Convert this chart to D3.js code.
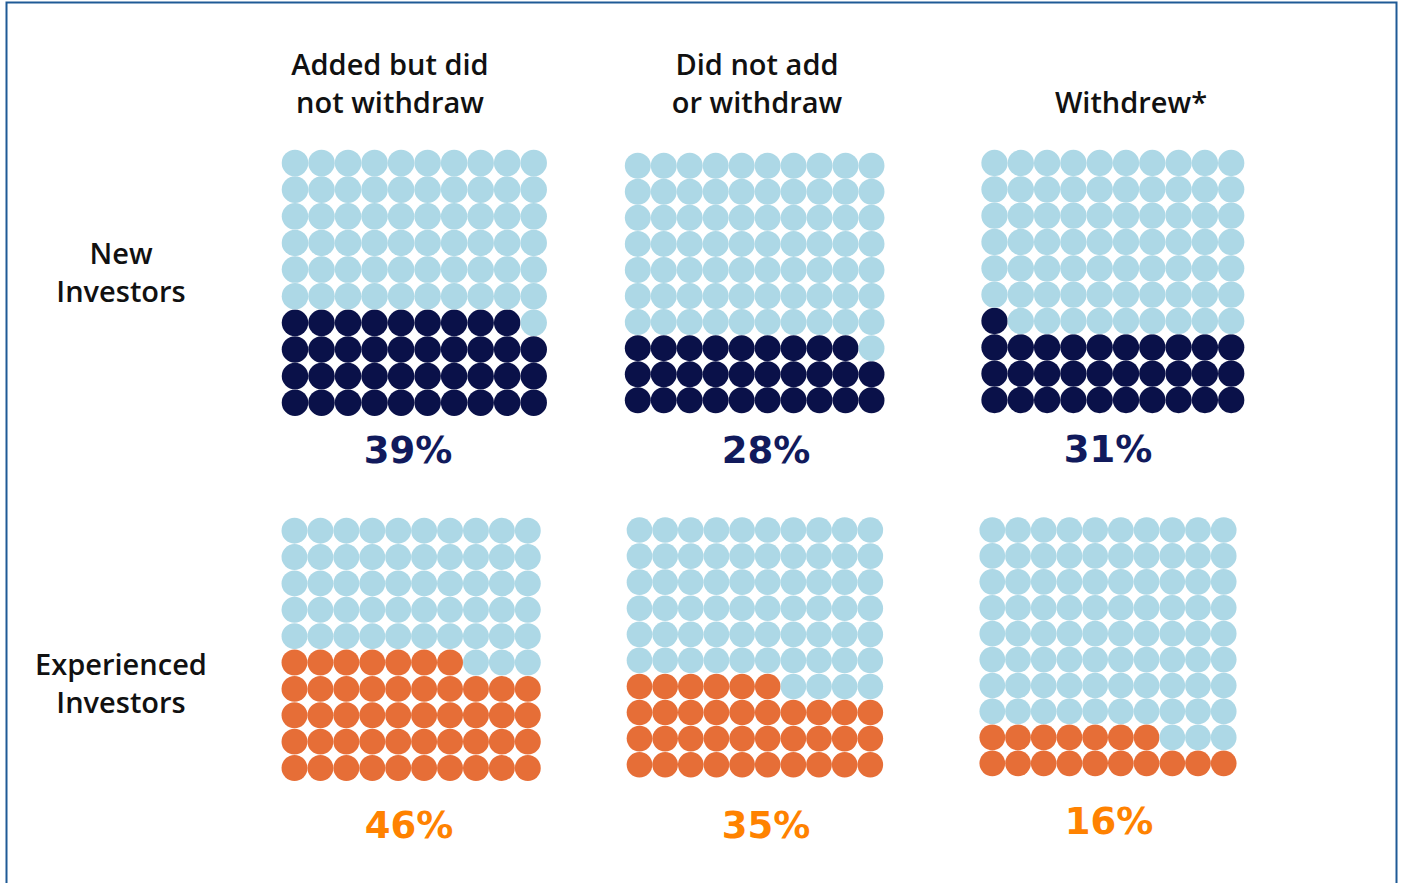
<!DOCTYPE html>
<html>
<head>
<meta charset="utf-8">
<script src="https://d3js.org/d3.v7.min.js"></script>
<style>
  html, body { margin: 0; padding: 0; background: #fff; }
  svg { display: block; }
</style>
</head>
<body>
<svg id="chart" width="1401" height="883"></svg>
<script>
  // data
  var columns = [["Added but did", "not withdraw"], ["Did not add", "or withdraw"], ["Withdrew*"]];
  var groups = [["New", "Investors"], ["Experienced", "Investors"]];
  var pctLabels = [["39%", "28%", "31%"], ["46%", "35%", "16%"]];
  // filled dots counted in each 10x10 waffle
  var filledDots = [[39, 29, 31], [47, 36, 17]];

  var groupColors = ["#0a1149", "#e66e37"];
  var pctColors = ["#111a5c", "#ff8200"];
  var emptyColor = "#add8e6";

  // centre of first / last dot in each panel [x0, x1, y0, y1]
  var panelBox = [
    [[295, 533.7, 163, 402.7], [637.8, 871.5, 165.7, 400.3], [994.5, 1231.2, 163, 400]],
    [[294.5, 527.8, 530.7, 768], [639.5, 870.3, 530, 764.7], [992.3, 1223.7, 530, 763.3]]
  ];
  var headX = [390, 757, 1131];
  var pctPos = [[[408, 463], [766, 463], [1108, 462]], [[409, 838], [766, 838], [1109, 834]]];
  var groupY = [[264, 302], [675, 713]];

  var svg = d3.select("#chart");

  svg.append("rect")
    .attr("x", 6.5).attr("y", 2.5)
    .attr("width", 1390).attr("height", 920)
    .attr("fill", "none")
    .attr("stroke", "#1f5a96")
    .attr("stroke-width", 2);

  function label(x, y0, lines) {
    var t = svg.append("text")
      .attr("text-anchor", "middle")
      .attr("font-family", "'Open Sans', sans-serif")
      .attr("font-weight", 600)
      .attr("font-size", 29)
      .attr("fill", "#111");
    lines.forEach(function(l, i) {
      t.append("tspan").attr("x", x).attr("y", y0 + i * 38).text(l);
    });
  }

  // column headers
  columns.forEach(function(lines, c) {
    label(headX[c], lines.length == 1 ? 113 : 75, lines);
  });

  // row labels
  groups.forEach(function(lines, g) {
    label(121, groupY[g][0], lines);
  });

  var cells = d3.range(100);

  filledDots.forEach(function(row, g) {
    row.forEach(function(n, c) {
      var b = panelBox[g][c];
      var x = d3.scaleLinear().domain([0, 9]).range([b[0], b[1]]);
      var y = d3.scaleLinear().domain([0, 9]).range([b[3], b[2]]);  // fill from bottom
      var r = Math.min((b[1] - b[0]) / 9, (b[3] - b[2]) / 9) * 0.5;

      svg.append("g").selectAll("circle")
        .data(cells)
        .enter().append("circle")
        .attr("cx", function(d) { return x(d % 10); })
        .attr("cy", function(d) { return y(Math.floor(d / 10)); })
        .attr("r", r)
        .attr("fill", function(d) { return d < n ? groupColors[g] : emptyColor; });

      svg.append("text")
        .attr("x", pctPos[g][c][0])
        .attr("y", pctPos[g][c][1])
        .attr("text-anchor", "middle")
        .attr("font-family", "'DejaVu Sans', sans-serif")
        .attr("font-weight", "bold")
        .attr("font-size", 37)
        .attr("fill", pctColors[g])
        .text(pctLabels[g][c]);
    });
  });
</script>
</body>
</html>
